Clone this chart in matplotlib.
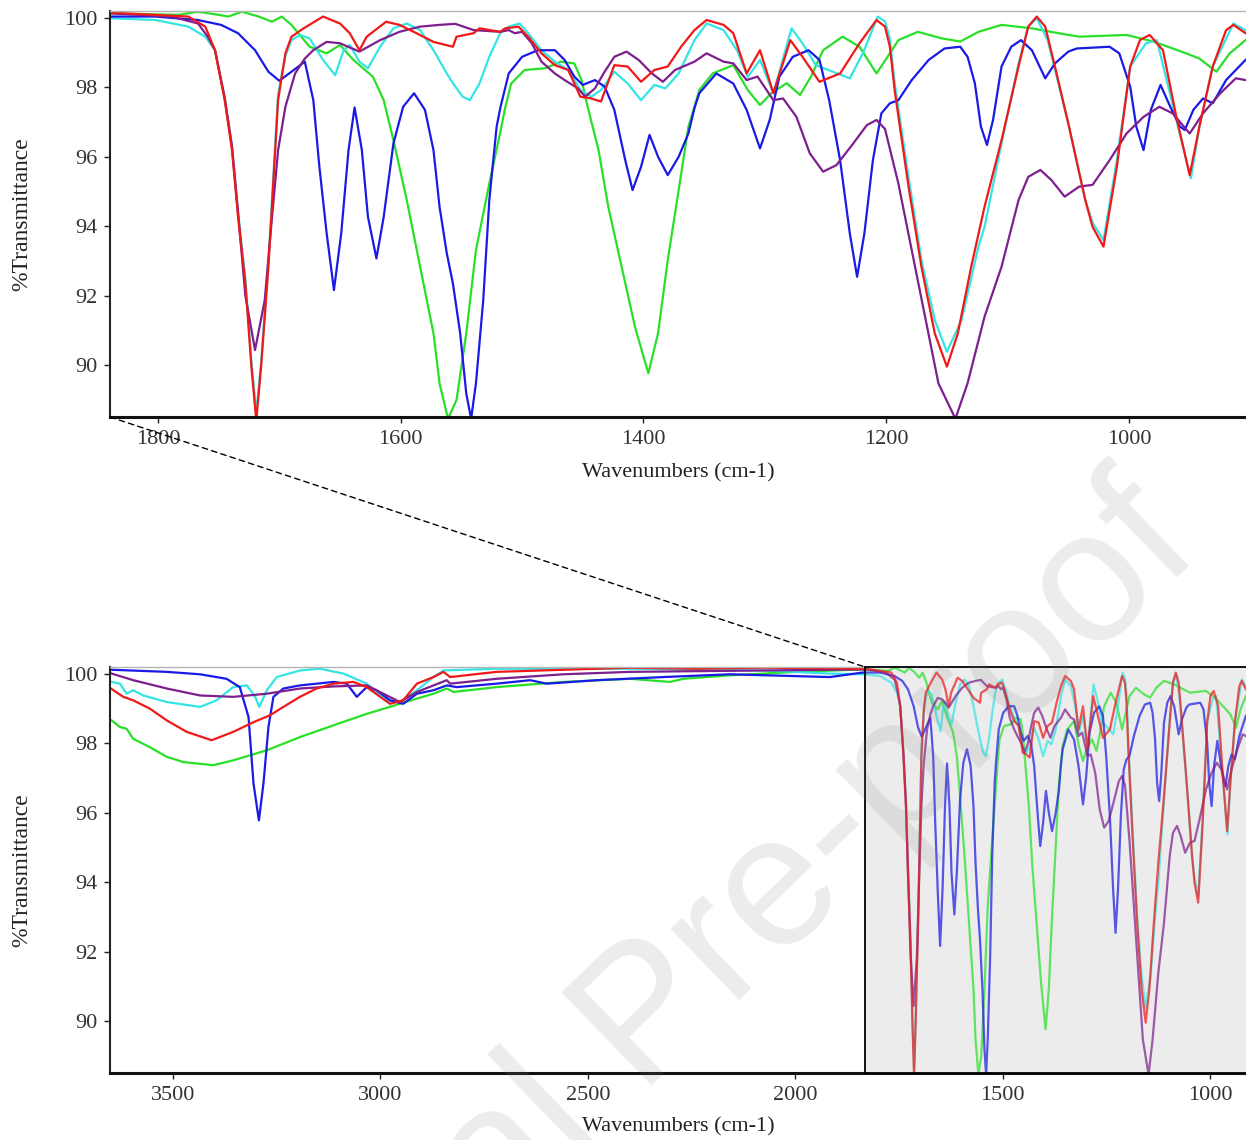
"""
FTIR spectra: full range (bottom) with the 1840-900 cm-1 window enlarged (top).
"""

import matplotlib
matplotlib.use("Agg")
import matplotlib.pyplot as plt
from matplotlib.patches import ConnectionPatch

plt.rcParams["font.family"] = ["Liberation Serif", "DejaVu Serif"]

# *** colours ***
C_BLUE   = "#1a1ae6"
C_RED    = "#f21818"
C_GREEN  = "#28e028"
C_CYAN   = "#33e5e5"
C_PURPLE = "#7d1f8f"

# *** spectra (wavenumber cm-1, %T) ***
RED_WN = [3650, 3620, 3596, 3556, 3515, 3467, 3407, 3355, 3306, 3266, 3234, 3194, 3154, 3113,
          3065, 3033, 2977, 2945, 2912, 2872, 2848, 2832, 2720, 2559, 2398, 2237, 2077,
          1838, 1775, 1761, 1753, 1745, 1739, 1734, 1728, 1723, 1719, 1715, 1709, 1705, 1701,
          1695, 1690, 1680, 1664, 1650, 1642, 1634, 1628, 1612, 1601, 1587, 1573, 1557, 1554,
          1540, 1535, 1518, 1514, 1503, 1495, 1484, 1473, 1462, 1452, 1443, 1435, 1424, 1413,
          1402, 1391, 1380, 1369, 1358, 1348, 1334, 1326, 1315, 1304, 1293, 1279, 1269, 1255,
          1238, 1222, 1208, 1201, 1197, 1193, 1182, 1171, 1160, 1150, 1141, 1130, 1119, 1105,
          1091, 1083, 1076, 1069, 1061, 1050, 1036, 1030, 1021, 1010, 999, 991, 983, 972, 961,
          950, 942, 931, 920, 914, 904]
RED_T = [99.58, 99.34, 99.24, 99.00, 98.66, 98.33, 98.09, 98.33, 98.61, 98.81, 99.05, 99.34, 99.58, 99.72,
         99.77, 99.62, 99.14, 99.24, 99.72, 99.91, 100.06, 99.91, 100.06, 100.12, 100.18, 100.15, 100.18,
         100.15, 100.04, 99.75, 99.07, 97.63, 96.19, 94.27, 92.35, 89.95, 88.40, 89.95, 92.83, 95.23, 97.63,
         98.98, 99.46, 99.70, 100.04, 99.84, 99.56, 99.07, 99.46, 99.89, 99.80, 99.56, 99.31, 99.17, 99.46,
         99.56, 99.70, 99.60, 99.70, 99.75, 99.46, 98.98, 98.64, 98.50, 97.73, 97.68, 97.59, 98.64, 98.60,
         98.16, 98.50, 98.60, 99.17, 99.65, 99.94, 99.80, 99.56, 98.40, 99.07, 97.83, 99.36, 98.88, 98.16,
         98.40, 99.27, 99.94, 99.75, 99.17, 97.90, 95.23, 92.83, 90.91, 89.95, 90.91, 92.83, 94.56, 96.48,
         98.60, 99.75, 100.04, 99.75, 98.60, 96.96, 94.75, 93.98, 93.41, 95.71, 98.60, 99.36, 99.51, 99.07, 97.15,
         95.47, 96.87, 98.60, 99.65, 99.80, 99.56]

CYAN_WN = [3648, 3628, 3612, 3596, 3572, 3515, 3435, 3395, 3355, 3322, 3302, 3292, 3274, 3250,
           3194, 3146, 3089, 3033, 2985, 2953, 2912, 2872, 2848, 2720, 2398, 2077, 1916,
           1838, 1802, 1775, 1761, 1753, 1745, 1739, 1734, 1728, 1723, 1719, 1715, 1709, 1705,
           1701, 1695, 1690, 1683, 1675, 1664, 1654, 1647, 1642, 1634, 1627, 1617, 1606, 1595,
           1584, 1573, 1562, 1557, 1549, 1543, 1535, 1527, 1518, 1511, 1502, 1495, 1484, 1473,
           1462, 1452, 1443, 1435, 1424, 1413, 1402, 1391, 1382, 1371, 1358, 1348, 1334, 1323,
           1314, 1304, 1293, 1278, 1269, 1258, 1244, 1230, 1219, 1207, 1201, 1197, 1193, 1182,
           1171, 1160, 1150, 1138, 1124, 1119, 1105, 1091, 1083, 1076, 1067, 1050, 1036, 1030,
           1021, 1010, 999, 986, 977, 961, 949, 942, 931, 914, 904]
CYAN_T = [99.77, 99.72, 99.43, 99.53, 99.38, 99.19, 99.05, 99.24, 99.62, 99.67, 99.34, 99.05, 99.53, 99.91,
          100.10, 100.15, 100.01, 99.72, 99.24, 99.19, 99.53, 99.91, 100.10, 100.15, 100.15, 100.10, 100.01,
          99.99, 99.94, 99.75, 99.46, 99.07, 97.70, 96.30, 94.40, 92.50, 90.10, 88.60, 90.10, 93.00, 95.40,
          97.80, 98.90, 99.36, 99.51, 99.41, 98.79, 98.35, 99.07, 99.22, 98.74, 98.55, 99.17, 99.70, 99.84,
          99.65, 99.07, 98.40, 98.12, 97.73, 97.63, 98.12, 98.88, 99.56, 99.75, 99.84, 99.56, 99.07, 98.74,
          98.50, 97.92, 97.73, 97.92, 98.45, 98.11, 97.63, 98.07, 97.97, 98.40, 99.36, 99.84, 99.65, 99.07,
          98.30, 98.79, 97.83, 99.70, 99.27, 98.64, 98.45, 98.26, 99.00, 100.04, 99.90, 99.40, 98.11, 95.50,
          93.02, 91.29, 90.38, 91.29, 93.41, 93.98, 96.39, 98.69, 99.75, 99.99, 99.36, 96.96, 94.75, 94.10,
          93.60, 95.90, 98.60, 99.27, 99.36, 97.06, 95.38, 96.87, 98.60, 99.84, 99.65]

PURPLE_WN = [3648, 3596, 3515, 3435, 3355, 3274, 3194, 3113, 3033, 2993, 2953, 2912, 2872, 2840,
             2832, 2720, 2559, 2398, 2237, 1838, 1789, 1767, 1759, 1753, 1745, 1739, 1734, 1728,
             1720, 1712, 1706, 1701, 1695, 1687, 1679, 1672, 1661, 1650, 1634, 1617, 1601, 1584,
             1568, 1555, 1540, 1518, 1511, 1506, 1500, 1492, 1484, 1473, 1465, 1454, 1448, 1440,
             1432, 1424, 1414, 1404, 1393, 1384, 1374, 1358, 1348, 1334, 1326, 1315, 1306, 1293,
             1285, 1274, 1263, 1252, 1241, 1227, 1216, 1208, 1201, 1190, 1179, 1168, 1157, 1143,
             1133, 1119, 1105, 1091, 1083, 1073, 1064, 1053, 1041, 1030, 1016, 1002, 988, 975, 964,
             950, 939, 925, 912, 904]
PURPLE_T = [100.01, 99.82, 99.58, 99.38, 99.34, 99.43, 99.58, 99.64, 99.67, 99.43, 99.19, 99.48, 99.67, 99.82,
            99.72, 99.86, 99.99, 100.06, 100.08, 100.13, 100.04, 99.84, 99.46, 99.07, 97.70, 96.30, 94.40, 92.00,
            90.43, 91.87, 94.27, 96.19, 97.44, 98.40, 98.83, 99.07, 99.31, 99.27, 99.03, 99.36, 99.60, 99.75,
            99.80, 99.83, 99.65, 99.60, 99.65, 99.56, 99.60, 99.27, 98.74, 98.40, 98.21, 97.97, 97.73, 97.97,
            98.45, 98.88, 99.03, 98.79, 98.40, 98.16, 98.50, 98.74, 98.98, 98.74, 98.69, 98.21, 98.31, 97.63,
            97.68, 97.15, 96.10, 95.57, 95.76, 96.39, 96.91, 97.06, 96.80, 95.23, 93.31, 91.39, 89.47, 88.45,
            89.47, 91.39, 92.83, 94.75, 95.42, 95.62, 95.33, 94.85, 95.14, 95.19, 95.90, 96.67, 97.15, 97.44, 97.25,
            96.67, 97.25, 97.82, 98.26, 98.21]

GREEN_WN = [3648, 3628, 3612, 3596, 3556, 3515, 3475, 3435, 3403, 3355, 3274, 3194, 3113, 3033,
            2953, 2912, 2872, 2840, 2824, 2720, 2559, 2398, 2302, 2269, 2157, 1996, 1838, 1783,
            1767, 1750, 1742, 1731, 1717, 1706, 1698, 1690, 1682, 1675, 1661, 1650, 1639, 1623,
            1614, 1606, 1595, 1584, 1573, 1568, 1561, 1554, 1546, 1538, 1527, 1518, 1514, 1509,
            1498, 1481, 1468, 1457, 1451, 1446, 1437, 1429, 1418, 1407, 1396, 1388, 1380, 1371,
            1363, 1358, 1354, 1343, 1326, 1314, 1304, 1295, 1282, 1271, 1262, 1252, 1236, 1222,
            1208, 1197, 1190, 1174, 1154, 1139, 1124, 1105, 1080, 1058, 1041, 1002, 980, 964, 953,
            942, 928, 917, 904]
GREEN_T = [98.66, 98.47, 98.42, 98.13, 97.89, 97.61, 97.46, 97.41, 97.37, 97.51, 97.80, 98.18, 98.52, 98.85,
           99.14, 99.29, 99.43, 99.58, 99.48, 99.62, 99.77, 99.86, 99.77, 99.86, 99.96, 100.06, 100.13, 100.09,
           100.18, 100.09, 100.04, 100.18, 100.04, 99.89, 100.04, 99.80, 99.46, 99.17, 98.98, 99.22, 98.79, 98.31,
           97.63, 96.48, 94.75, 92.83, 90.91, 89.47, 88.45, 88.99, 90.91, 93.31, 95.23, 96.70, 97.40, 98.11,
           98.50, 98.55, 98.74, 98.69, 98.21, 97.44, 96.19, 94.56, 92.83, 91.10, 89.76, 90.91, 93.02, 95.04,
           96.86, 97.44, 97.92, 98.40, 98.64, 97.92, 97.49, 97.82, 98.12, 97.78, 98.31, 99.07, 99.46, 99.17,
           98.40, 98.98, 99.36, 99.60, 99.41, 99.32, 99.60, 99.80, 99.70, 99.56, 99.46, 99.51, 99.32, 99.12, 98.98,
           98.83, 98.45, 98.98, 99.36]

BLUE_WN = [3648, 3515, 3435, 3371, 3339, 3318, 3306, 3293, 3282, 3270, 3258, 3234, 3194, 3154,
           3113, 3081, 3057, 3033, 3009, 2977, 2945, 2912, 2872, 2840, 2816, 2720, 2639, 2599,
           2478, 2318, 2157, 1916, 1838, 1802, 1767, 1748, 1734, 1720, 1709, 1700, 1690, 1679,
           1672, 1667, 1661, 1655, 1649, 1643, 1638, 1632, 1627, 1620, 1614, 1606, 1598, 1589,
           1580, 1573, 1568, 1562, 1557, 1551, 1546, 1542, 1538, 1532, 1527, 1521, 1518, 1511,
           1500, 1487, 1473, 1465, 1457, 1450, 1440, 1432, 1424, 1415, 1409, 1402, 1395, 1388,
           1380, 1371, 1363, 1358, 1354, 1340, 1326, 1315, 1304, 1296, 1288, 1277, 1264, 1255,
           1247, 1238, 1230, 1224, 1218, 1211, 1204, 1197, 1190, 1179, 1165, 1152, 1139, 1133,
           1127, 1122, 1117, 1112, 1105, 1097, 1089, 1080, 1069, 1061, 1050, 1043, 1016, 1008,
           999, 994, 988, 982, 974, 966, 958, 954, 947, 939, 931, 920, 904]
BLUE_T = [100.12, 100.06, 99.99, 99.86, 99.62, 98.76, 96.84, 95.78, 96.84, 98.47, 99.34, 99.58, 99.67, 99.72,
          99.77, 99.72, 99.34, 99.62, 99.53, 99.24, 99.14, 99.43, 99.53, 99.67, 99.62, 99.72, 99.82, 99.72,
          99.82, 99.91, 99.99, 99.91, 100.04, 100.04, 99.94, 99.80, 99.56, 99.07, 98.45, 98.19, 98.45, 98.74,
          97.63, 95.71, 93.79, 92.16, 93.79, 96.19, 97.42, 96.19, 94.27, 93.07, 94.27, 96.38, 97.44, 97.83,
          97.35, 96.19, 94.56, 93.21, 92.35, 90.91, 89.18, 88.45, 89.47, 91.87, 94.75, 96.86, 97.40, 98.40,
          98.88, 99.07, 99.07, 98.79, 98.31, 98.07, 98.21, 98.02, 97.35, 95.90, 95.04, 95.71, 96.63, 96.00,
          95.47, 96.00, 96.67, 97.40, 97.83, 98.40, 98.11, 97.35, 96.24, 97.06, 98.31, 98.88, 99.07, 98.79,
          97.63, 95.90, 93.79, 92.54, 93.79, 95.90, 97.25, 97.54, 97.63, 98.21, 98.79, 99.12, 99.17, 98.88,
          98.12, 96.87, 96.34, 97.06, 98.60, 99.17, 99.36, 99.07, 98.26, 98.69, 99.03, 99.12, 99.17, 98.98,
          98.02, 96.87, 96.19, 97.35, 98.07, 97.44, 96.87, 96.77, 97.35, 97.68, 97.54, 98.21, 98.79]

# drawing order: last one ends on top
SERIES = [
    (GREEN_WN, GREEN_T, C_GREEN),
    (CYAN_WN, CYAN_T, C_CYAN),
    (BLUE_WN, BLUE_T, C_BLUE),
    (PURPLE_WN, PURPLE_T, C_PURPLE),
    (RED_WN, RED_T, C_RED),
]

Y_LIM = (88.5, 100.2)
W, H = 1246, 1140


def draw_series(ax, alpha=1.0):
    for wn, t, c in SERIES:
        ax.plot(wn, t, color=c, lw=1.6, alpha=alpha, solid_joinstyle="round")


def style_axes(ax, xlim, xticks, xlabel_y):
    ax.set_xlim(*xlim)
    ax.set_ylim(*Y_LIM)
    ax.set_xticks(xticks)
    ax.set_yticks(range(90, 101, 2))
    ax.spines["right"].set_visible(False)
    ax.spines["top"].set_color("#b4b4b4")
    ax.spines["top"].set_linewidth(1.0)
    ax.spines["left"].set_color("#222222")
    ax.spines["left"].set_linewidth(1.5)
    ax.spines["bottom"].set_color("#111111")
    ax.spines["bottom"].set_linewidth(2.2)
    ax.tick_params(direction="out", length=4, width=1, labelsize=16, pad=5,
                   colors="#222222", labelcolor="#333333")
    ax.set_xlabel("Wavenumbers (cm-1)", fontsize=16, color="#222222")
    ax.set_ylabel("%Transmittance", fontsize=17, color="#222222")
    ax.xaxis.set_label_coords(0.5, xlabel_y)
    ax.yaxis.set_label_coords(-0.0687, 0.5)


fig = plt.figure(figsize=(W / 100, H / 100), dpi=100)

left = 110 / W
ax_top = fig.add_axes([left, 1 - 417 / H, 1 - left, 406 / H])
ax_bot = fig.add_axes([left, 1 - 1073 / H, 1 - left, 406 / H])
ax_in = fig.add_axes([865 / W, 1 - 1073 / H, 1 - 865 / W, 406 / H])

# top: enlarged fingerprint window
draw_series(ax_top)
style_axes(ax_top, (1839.5, 903.6), [1800, 1600, 1400, 1200, 1000], -0.115)

# bottom: full range
draw_series(ax_bot)
style_axes(ax_bot, (3652, 913), [3500, 3000, 2500, 2000, 1500, 1000], -0.11)

# grey box over the bottom panel repeating the top window
ax_in.set_facecolor("#ececec")
draw_series(ax_in, alpha=0.72)
ax_in.set_xlim(1839.5, 903.6)
ax_in.set_ylim(*Y_LIM)
ax_in.set_xticks([])
ax_in.set_yticks([])
for side in ("left", "top", "bottom"):
    ax_in.spines[side].set_color("black")
    ax_in.spines[side].set_linewidth(1.3)
ax_in.spines["right"].set_visible(False)

# dashed link between the two
con = ConnectionPatch(xyA=(0, 0), coordsA=ax_top.transAxes,
                      xyB=(0, 1), coordsB=ax_in.transAxes,
                      color="black", lw=1.0, linestyle=(0, (4, 3)))
fig.add_artist(con)

# watermark (cut by the lower edge, as in the source)
fig.text(0.52, 0.105, "Journal Pre-proof", fontsize=135, rotation=44,
         color="0.5", alpha=0.15, ha="center", va="center",
         family=["Liberation Sans", "DejaVu Sans"], zorder=10)

fig.savefig("out.png", dpi=100)
plt.close(fig)
